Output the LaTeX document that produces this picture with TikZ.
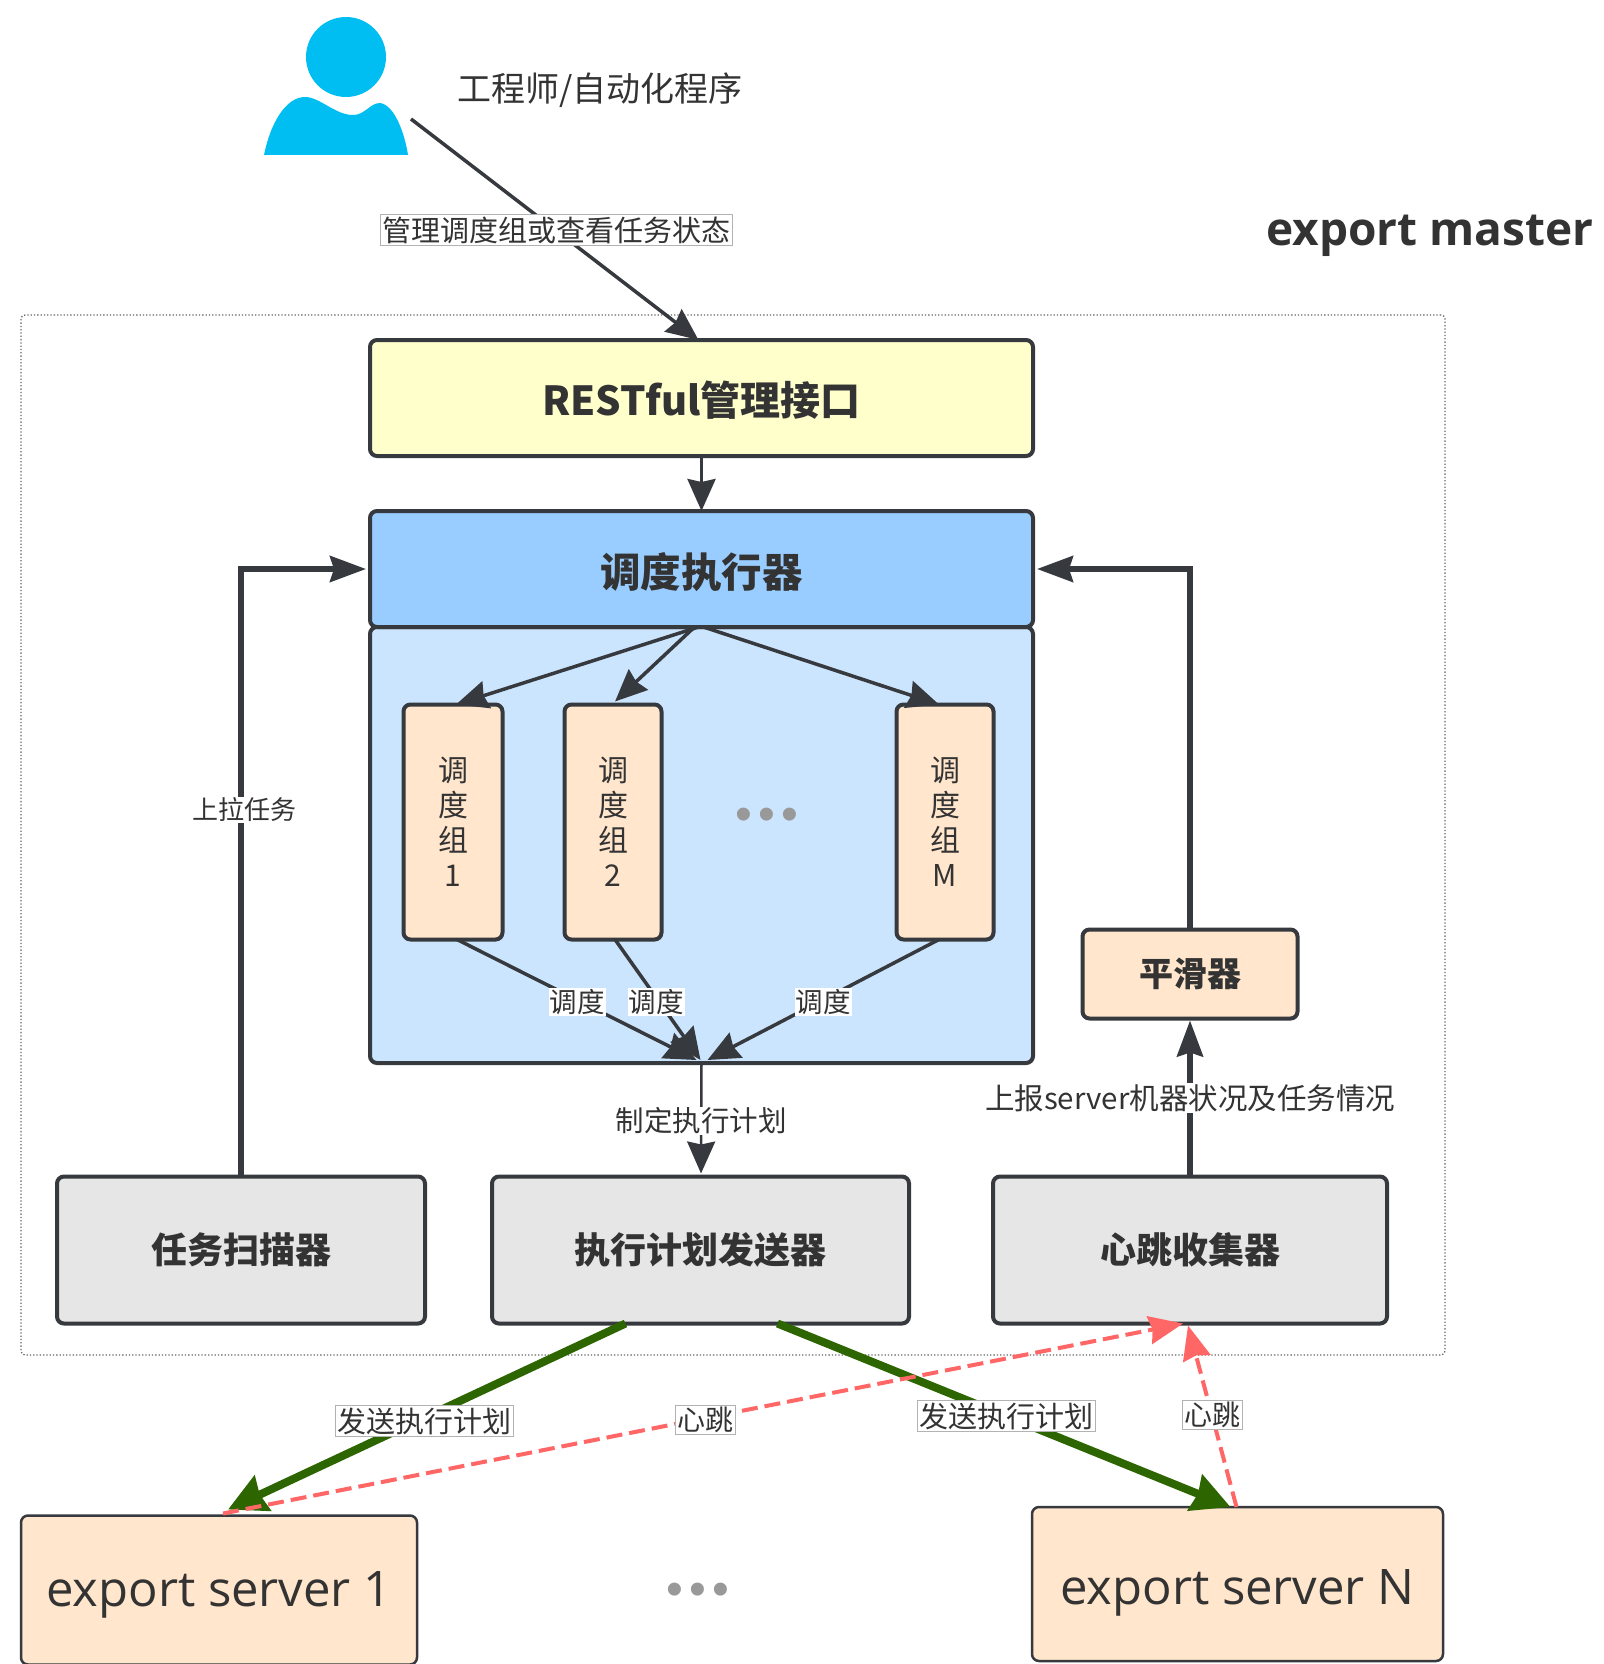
\documentclass[tikz,border=0pt]{standalone}
\usepackage{fontspec}
\setmainfont{Noto Sans CJK SC}
\newfontfamily\latinfont{Open Sans}
\newfontfamily\dotfont{Liberation Sans}
\usetikzlibrary{arrows.meta,calc}
\definecolor{ink}{HTML}{36393D}
\definecolor{txt}{HTML}{333333}
\definecolor{skyp}{HTML}{00BEF2}
\definecolor{yel}{HTML}{FFFFCC}
\definecolor{blueh}{HTML}{99CCFF}
\definecolor{bluep}{HTML}{CCE5FF}
\definecolor{peach}{HTML}{FFE6CC}
\definecolor{grayb}{HTML}{E6E6E6}
\definecolor{greena}{HTML}{2D6600}
\definecolor{reda}{HTML}{FF6666}
\newcommand\dn[2]{\raisebox{0pt}[\dimexpr\height+#1*2\relax][\depth]{#2}}
\newcommand\threedots{•\hspace{6pt}•\hspace{6pt}•}
\tikzset{
  box/.style={draw=ink,rounded corners=7pt,line width=4pt,inner sep=0pt,outer sep=0pt,text=txt,align=center},
  boldtext/.style={font=\fontsize{#1}{#1}\selectfont\bfseries},
  plain/.style={font=\fontsize{#1}{#1}\selectfont,text=txt,inner sep=0pt,outer sep=0pt},
  edgelab/.style={font=\fontsize{#1}{#1}\selectfont,text=txt,fill=white,inner sep=2pt,outer sep=0pt},
  framed/.style={draw=gray!60,line width=1pt},
  arrow/.style={draw=ink,line width=3.5pt,-{Stealth[length=32pt,width=28pt,inset=3pt]}},
  heavy/.style={draw=ink,line width=5.5pt,-{Stealth[length=36pt,width=26pt,inset=4pt]}},
  greenarrow/.style={draw=greena,line width=8pt,-{Stealth[length=38pt,width=38pt,inset=3pt]}},
  redarrow/.style={draw=reda,line width=4pt,dash pattern=on 16pt off 7pt,-{Stealth[length=34pt,width=28pt,inset=3pt]}},
  dotstext/.style={font=\dotfont\fontsize{48}{48}\selectfont,text=gray!80,inner sep=0pt},
}
\begin{document}
\begin{tikzpicture}[x=1pt,y=-1pt]
\useasboundingbox (0,0) rectangle (1603,1664);
\fill[white] (0,0) rectangle (1603,1664);
% person
\fill[skyp] (346,57) circle (40);
\fill[skyp] (264,155) .. controls (270,125) and (285,97) .. (305,97)
  .. controls (320,97) and (335,115) .. (353,115)
  .. controls (365,115) and (370,103) .. (380,103)
  .. controls (395,105) and (405,135) .. (408,155) -- cycle;
\coordinate (person) at (411,119);
\node[plain=34] (engineer) at (600,90) {工程师/自动化程序};
\node[font=\latinfont\fontsize{46}{46}\selectfont\bfseries,text=txt,inner sep=0pt] (title) at (1430,236) {export master};
% outer frame
\node[draw=gray!80!black,dotted,line width=1.3pt,rounded corners=4pt,minimum width=1424pt,minimum height=1040pt,inner sep=0pt,outer sep=0pt] (frame) at (733,835) {};
% main boxes
\node[box,fill=yel,minimum width=663pt,minimum height=116pt,boldtext=40] (rest) at (701.5,398) {\dn{2pt}{RESTful管理接口}};
\node[box,fill=bluep,minimum width=663pt,minimum height=436pt] (panel) at (701.5,845) {};
\node[box,fill=blueh,minimum width=663pt,minimum height=116pt,boldtext=40.5] (sched) at (701.5,569) {\dn{3pt}{调度执行器}};
\node[box,fill=peach,minimum width=99pt,minimum height=235pt,font=\fontsize{30}{35}\selectfont] (g1) at (453,822) {调\\度\\组\\1};
\node[box,fill=peach,minimum width=97pt,minimum height=235pt,font=\fontsize{30}{35}\selectfont] (g2) at (613,822) {调\\度\\组\\2};
\node[box,fill=peach,minimum width=97pt,minimum height=235pt,font=\fontsize{30}{35}\selectfont] (gm) at (945,822) {调\\度\\组\\M};
\node[dotstext] (dots1) at (767,819) {\threedots};
\node[box,fill=peach,minimum width=215pt,minimum height=89pt,boldtext=34] (smooth) at (1190,974) {平滑器};
\node[box,fill=grayb,minimum width=368pt,minimum height=147pt,boldtext=36] (scan) at (241,1250) {任务扫描器};
\node[box,fill=grayb,minimum width=417pt,minimum height=147pt,boldtext=36] (send) at (700.5,1250) {执行计划发送器};
\node[box,fill=grayb,minimum width=394pt,minimum height=147pt,boldtext=36] (heart) at (1190,1250) {心跳收集器};
\node[box,line width=2.5pt,fill=peach,minimum width=396pt,minimum height=149pt,font=\latinfont\fontsize{49}{49}\selectfont] (s1) at (219,1590) {\dn{5pt}{export server 1}};
\node[box,line width=2.5pt,fill=peach,minimum width=411pt,minimum height=154pt,font=\latinfont\fontsize{49}{49}\selectfont] (sn) at (1237.5,1584) {\dn{9pt}{export server N}};
\node[dotstext] (dots2) at (698,1594) {\threedots};
% connectors
\draw[arrow] (person) -- ([xshift=-3pt]rest.north);
\draw[arrow] (rest.south) -- (sched.north);
\draw[arrow] ([xshift=-3pt]sched.south) -- ([xshift=3pt]g1.north);
\draw[arrow] ([xshift=-7pt]sched.south) -- ([xshift=2pt,yshift=3pt]g2.north);
\draw[arrow] ([xshift=2pt]sched.south) -- ([xshift=-6pt]gm.north);
\draw[arrow] ([xshift=4pt]g1.south) -- ([xshift=-5pt,yshift=3pt]panel.south);
\draw[arrow] ([xshift=2pt]g2.south) -- ([xshift=-1pt,yshift=3pt]panel.south);
\draw[arrow] ([xshift=-6pt]gm.south) -- ([xshift=6pt,yshift=3pt]panel.south);
\draw[arrow,line width=2.5pt] (panel.south) -- ([xshift=0.5pt,yshift=3pt]send.north);
\draw[heavy] (scan.north) |- ([xshift=-4pt]sched.west);
\draw[heavy] (smooth.north) |- ([xshift=4pt]sched.east);
\draw[heavy] (heart.north) -- ([yshift=-2pt]smooth.south);
\draw[greenarrow] ([xshift=-75pt]send.south) -- ([xshift=9pt,yshift=6pt]s1.north);
\draw[greenarrow] ([xshift=77pt]send.south) -- ([xshift=-7pt]sn.north);
\draw[redarrow] ([xshift=4pt,yshift=2pt]s1.north) -- ([xshift=-7pt]heart.south);
\draw[redarrow] ([xshift=-1pt]sn.north) -- ([xshift=-2pt,yshift=-2pt]heart.south);
% edge labels
\node[edgelab=29,framed] (l1) at (556,230) {管理调度组或查看任务状态};
\node[edgelab=26,inner sep=1pt] (l2) at (244,810) {上拉任务};
\node[edgelab=27.5,inner sep=1pt] (l3) at (577,1002) {调度};
\node[edgelab=27.5,inner sep=1pt] (l4) at (656,1002) {调度};
\node[edgelab=27.5,inner sep=1pt] (l5) at (823,1002) {调度};
\node[edgelab=28.5,inner sep=1pt] (l6) at (701,1121) {制定执行计划};
\node[edgelab=29.5,inner sep=1pt] (l7) at (1190,1098) {上报server机器状况及任务情况};
\node[edgelab=29,framed] (l8) at (424,1421) {发送执行计划};
\node[edgelab=29,framed] (l9) at (1006,1416) {发送执行计划};
\node[edgelab=28,framed] (l10) at (705,1420) {心跳};
\node[edgelab=28,framed] (l11) at (1212,1415) {心跳};
\end{tikzpicture}
\end{document}
